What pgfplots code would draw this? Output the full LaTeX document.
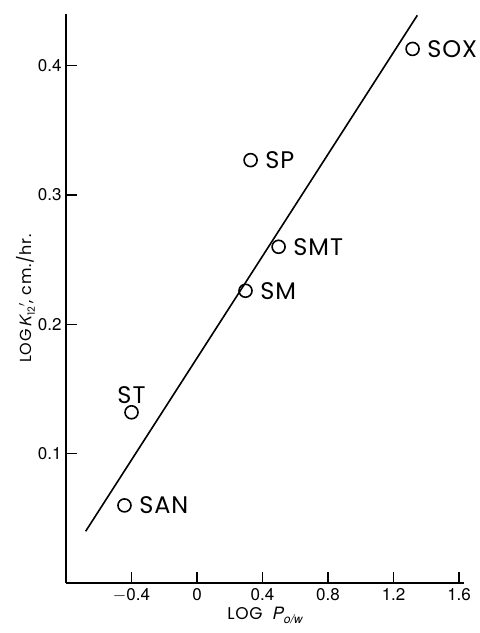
\documentclass[border=0pt]{standalone}
\usepackage{fontspec}
\setmainfont{TeX Gyre Heros}
\newfontfamily\geo[LetterSpace=4]{Poppins}
\usepackage{pgfplots}
\pgfplotsset{compat=1.18}
\begin{document}
\begin{tikzpicture}
\begin{axis}[
  scale only axis,
  width=398pt, height=569pt,
  xmin=-0.80, xmax=1.63,
  ymin=0, ymax=0.44,
  axis x line=bottom, axis y line=left,
  axis line style={-, line width=1.4pt},
  tick align=inside,
  major tick length=11pt,
  tick style={line width=1.3pt, black},
  xtick={-0.4,0,0.4,0.8,1.2,1.6},
  xticklabels={$-$0.4,0,0.4,0.8,1.2,1.6},
  ytick={0.1,0.2,0.3,0.4},
  yticklabels={0.1,0.2,0.3,0.4},
  ticklabel style={font=\fontsize{17}{19}\selectfont},
  xticklabel style={yshift=-2pt},
  yticklabel style={xshift=-1pt},
  xlabel={\fontsize{17}{19}\selectfont\geo LOG\; {\rmfamily\itshape P}\raisebox{-0.45ex}{\fontsize{12}{13}\selectfont\rmfamily\itshape o/w}},
  xlabel style={yshift=2pt},
  ylabel={\fontsize{16}{18}\selectfont\geo LOG\,{\rmfamily\itshape K}\raisebox{-0.4ex}{\fontsize{10}{11}\selectfont 12}$'$, cm./hr.},
  ylabel style={yshift=-4pt},
  clip=false,
]
\addplot[line width=1.6pt, black] coordinates {(-0.68,0.040) (1.345,0.439)};
\addplot[only marks, mark=o, mark size=6.5pt, mark options={line width=1.6pt, black},
  nodes near coords, point meta=explicit symbolic,
  nodes near coords style={anchor=west, inner sep=0pt, xshift=14pt, font=\fontsize{24}{26}\selectfont\geo}]
  table[meta=lab] {
x y lab
1.316 0.413 SOX
0.327 0.327 SP
0.498 0.260 SMT
0.296 0.226 SM
-0.443 0.060 SAN
};
\addplot[only marks, mark=o, mark size=6.5pt, mark options={line width=1.6pt, black},
  nodes near coords, point meta=explicit symbolic,
  nodes near coords style={anchor=south, inner sep=0pt, yshift=8pt, font=\fontsize{24}{26}\selectfont\geo}]
  table[meta=lab] {
x y lab
-0.40 0.132 ST
};
\end{axis}
\pgfresetboundingbox
\path (current axis.south west) ++(-66pt,-50pt) rectangle ++(480pt,633pt);
\end{tikzpicture}
\end{document}
